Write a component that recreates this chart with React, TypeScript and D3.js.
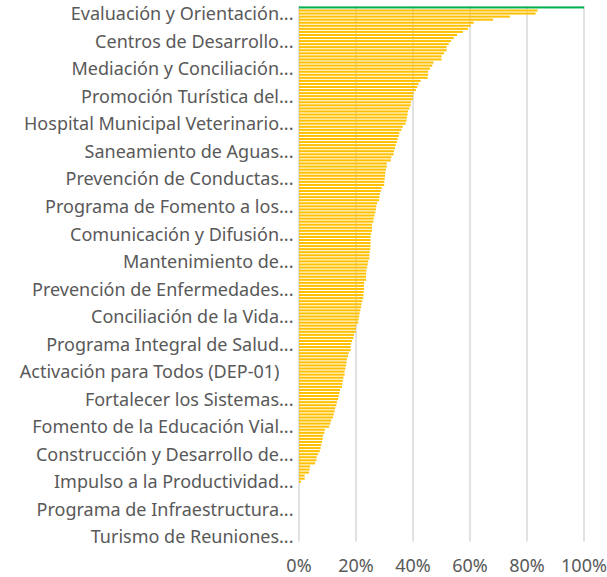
import React from "react";
import * as d3 from "d3";

// porcentaje de avance por programa (ordenado de mayor a menor)
const values: number[] = [
  100, 83.7, 83.0, 74.0, 68.1, 61.3, 60.2, 59.3, 57.5, 55.5,
  54.3, 53.3, 52.5, 51.8, 51.8, 50.9, 50.0, 50.0, 47.2, 46.8,
  46.0, 45.3, 45.3, 45.1, 42.7, 41.9, 41.5, 41.0, 40.2, 40.1,
  39.9, 39.3, 39.2, 38.7, 38.2, 38.1, 37.9, 37.7, 37.4, 36.4,
  35.9, 35.2, 35.0, 34.6, 34.4, 33.9, 33.7, 33.3, 33.2, 32.4,
  32.2, 30.8, 30.8, 30.5, 30.3, 30.2, 30.1, 29.9, 29.9, 29.0,
  28.7, 28.4, 28.2, 28.1, 27.4, 27.1, 27.0, 26.8, 26.5, 26.2,
  26.1, 25.6, 25.6, 25.6, 25.3, 25.1, 25.1, 25.1, 25.1, 25.0,
  24.8, 24.7, 24.7, 24.3, 24.1, 23.9, 23.6, 23.6, 23.5, 23.5,
  22.9, 22.8, 22.8, 22.7, 22.6, 22.5, 22.2, 21.9, 21.8, 21.5,
  21.3, 21.1, 20.9, 20.8, 20.1, 20.0, 19.9, 19.3, 19.1, 18.6,
  18.2, 18.1, 18.1, 17.4, 17.2, 16.8, 16.7, 16.5, 16.3, 16.0,
  16.0, 15.6, 15.4, 15.2, 15.1, 14.4, 14.2, 13.9, 13.7, 13.3,
  13.1, 12.7, 12.5, 12.2, 11.9, 11.3, 11.0, 10.6, 9.1, 8.9,
  8.4, 8.3, 8.1, 7.8, 7.6, 7.3, 6.7, 6.2, 6.1, 5.6,
  3.9, 3.7, 3.5, 2.0, 2.0, 0.7, 0, 0, 0, 0,
  0, 0, 0, 0, 0, 0, 0, 0, 0, 0,
  0, 0, 0, 0, 0,
];

// etiquetas visibles del eje (una cada 9 categorías, contando desde abajo)
const labels: string[] = [
  "Evaluación y Orientación...",
  "Centros de Desarrollo...",
  "Mediación y Conciliación...",
  "Promoción Turística del...",
  "Hospital Municipal Veterinario...",
  "Saneamiento de Aguas...",
  "Prevención de Conductas...",
  "Programa de Fomento a los...",
  "Comunicación y Difusión...",
  "Mantenimiento de...",
  "Prevención de Enfermedades...",
  "Conciliación de la Vida...",
  "Programa Integral de Salud...",
  "Activación para Todos (DEP-01)   ",
  "Fortalecer los Sistemas...",
  "Fomento de la Educación Vial...",
  "Construcción y Desarrollo de...",
  "Impulso a la Productividad...",
  "Programa de Infraestructura...",
  "Turismo de Reuniones...",
];

const labelEvery = 9;
const highlight = 0; // la barra del 100% va en verde

const App: React.FC = () => {
  const width = 607;
  const height = 577;
  const top = 5.9;
  const bottom = 541.4;
  const left = 299;
  const right = 584;

  const n = values.length;
  const y = d3
    .scaleBand<number>()
    .domain(d3.range(n))
    .range([top, bottom])
    .paddingInner(0.33)
    .paddingOuter(0.165);
  const x = d3.scaleLinear().domain([0, 1]).range([left, right]);
  const fmt = d3.format(".0%");

  // posiciones de las etiquetas: cada 9 desde la última
  const labelIdx = d3.range(n).filter((i) => (n - 1 - i) % labelEvery === 0);

  const font = "'Noto Sans', 'Open Sans', sans-serif";

  return (
    <svg
      width={width}
      height={height}
      style={{ position: "absolute", left: 0, top: 0, background: "#fff" }}
    >
      {/* líneas de cuadrícula */}
      {x.ticks(5).map((t) => (
        <line
          key={"g" + t}
          x1={x(t)}
          x2={x(t)}
          y1={top}
          y2={bottom}
          stroke="#d9d9d9"
          strokeWidth={1.5}
        />
      ))}

      {/* barras */}
      {values.map((v, i) => (
        <rect
          key={"b" + i}
          x={x(0)}
          y={y(i)}
          width={x(v / 100) - x(0)}
          height={y.bandwidth()}
          fill={i === highlight ? "#00b050" : "#ffc000"}
        />
      ))}

      {/* etiquetas de categorías */}
      {labelIdx.map((i, k) => (
        <text
          key={"l" + i}
          x={293.5}
          y={(y(i) as number) + y.bandwidth() / 2 + 3.6}
          textAnchor="end"
          fontFamily={font}
          fontSize={18}
          fill="#595959"
          style={{ whiteSpace: "pre" }}
        >
          {labels[k]}
        </text>
      ))}

      {/* eje de valores */}
      {x.ticks(5).map((t) => (
        <text
          key={"t" + t}
          x={x(t)}
          y={572}
          textAnchor="middle"
          fontFamily={font}
          fontSize={18}
          fill="#595959"
        >
          {fmt(t)}
        </text>
      ))}
    </svg>
  );
};

export default App;
